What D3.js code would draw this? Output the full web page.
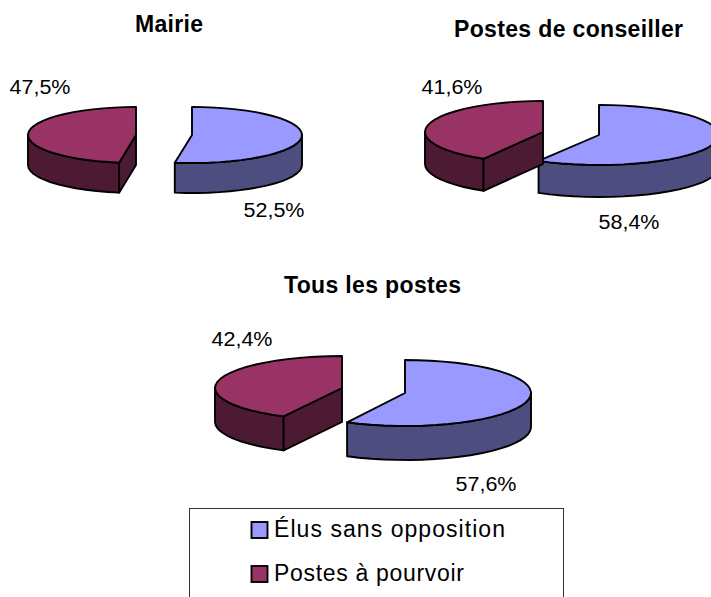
<!DOCTYPE html>
<html><head><meta charset="utf-8">
<script src="https://cdn.jsdelivr.net/npm/d3@7"></script>
<style>html,body{margin:0;padding:0;background:#fff}svg{display:block}text{font-family:"Liberation Sans",Arial,sans-serif;fill:#000}</style>
</head><body><div id="c"></div>
<script>
const categories = ["Élus sans opposition", "Postes à pourvoir"];
const titles = ["Mairie", "Postes de conseiller", "Tous les postes"];
const mairie = [52.5, 47.5];
const conseiller = [58.4, 41.6];
const tous = [57.6, 42.4];
const seriesValues = [mairie, conseiller, tous];
const valueLabels = [["52,5%", "47,5%"], ["58,4%", "41,6%"], ["57,6%", "42,4%"]];
const topColors = ["#9999FF", "#993366"];
const sideColors = ["#4D4D80", "#4D1A33"];

// layout: per chart, per slice [cx, cy, rx, ry, depth]
const geom = [
  [[192, 135, 110, 28, 30], [136, 135, 108, 28, 30]],
  [[599, 135, 120, 30, 32], [543, 132, 118, 31, 32]],
  [[405, 393, 126, 33, 34], [342, 388, 127, 32, 34]]
];
const titlePos = [[169, 32], [568.5, 37], [372.5, 293]];
const titleWidths = [68, 229, 177];
const labelPos = [[[274, 217], [40, 94]], [[629, 229], [452, 94]], [[486, 491], [242, 346]]];
const legendWidths = [231, 190];

const W = 711, H = 597;
const svg = d3.select("#c").append("svg").attr("width", W).attr("height", H);
const line = d3.line().x(d => d[0]).y(d => d[1]);
const pie = d3.pie().sort(null);
const STEP = Math.PI / 30;

function samples(a0, a1) {
  const n = Math.max(1, Math.round((a1 - a0) / STEP));
  return d3.range(n + 1).map(i => a0 + (a1 - a0) * i / n);
}
const outline = sel => sel.attr("stroke", "#000").attr("stroke-width", 1.9).attr("stroke-linejoin", "round");

seriesValues.forEach((vals, c) => {
  const g = svg.append("g");
  pie(vals).forEach((s, i) => {
    const [cx, cy, rx, ry, dep] = geom[c][i];
    const pt = (a, dy = 0) => [cx + rx * Math.sin(a), cy - ry * Math.cos(a) + dy];
    const a0 = s.startAngle, a1 = s.endAngle;
    const w0 = Math.max(a0, Math.PI / 2), w1 = Math.min(a1, 3 * Math.PI / 2);
    const wa = samples(w0, w1);
    const wall = wa.map(a => pt(a)).concat(wa.slice().reverse().map(a => pt(a, dep)));
    g.append("path").attr("d", line(wall) + "Z").attr("fill", sideColors[i]).call(outline);
    if (a0 > 0) {
      const face = [[cx, cy], pt(a0), pt(a0, dep), [cx, cy + dep]];
      g.append("path").attr("d", line(face) + "Z").attr("fill", sideColors[i]).call(outline);
    }
    const top = [[cx, cy]].concat(samples(a0, a1).map(a => pt(a)));
    g.append("path").attr("d", line(top) + "Z").attr("fill", topColors[i]).call(outline);
    g.append("text").attr("x", labelPos[c][i][0]).attr("y", labelPos[c][i][1])
      .attr("text-anchor", "middle").attr("font-size", 20).attr("textLength", 61).attr("lengthAdjust", "spacingAndGlyphs")
      .text(valueLabels[c][i]);
  });
  svg.append("text").attr("x", titlePos[c][0]).attr("y", titlePos[c][1])
    .attr("text-anchor", "middle").attr("font-size", 23).attr("font-weight", "bold")
    .attr("textLength", titleWidths[c]).attr("lengthAdjust", "spacing").text(titles[c]);
});

// legend
const leg = svg.append("g");
leg.append("rect").attr("x", 189.5).attr("y", 508.5).attr("width", 374).attr("height", 110)
  .attr("fill", "#fff").attr("stroke", "#333").attr("stroke-width", 1);
const legY = d3.scalePoint().domain(categories).range([530, 574]);
categories.forEach((name, i) => {
  leg.append("rect").attr("x", 251.5).attr("y", legY(name) - 8).attr("width", 16).attr("height", 16)
    .attr("fill", topColors[i]).attr("stroke", "#000").attr("stroke-width", 1.9);
  leg.append("text").attr("x", 274).attr("y", legY(name) + 7).attr("font-size", 23)
    .attr("textLength", legendWidths[i]).attr("lengthAdjust", "spacing").text(name);
});
</script></body></html>
